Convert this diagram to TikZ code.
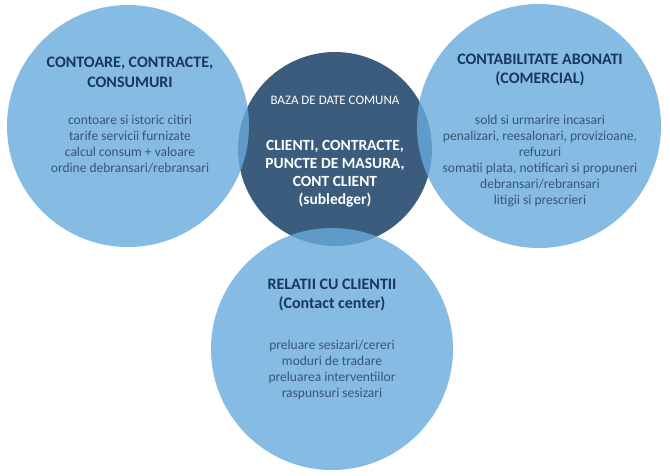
\documentclass[tikz,border=0pt]{standalone}
\usepackage{fontspec}
\setmainfont{Carlito}
\usepackage{tikz}

\definecolor{lightdisc}{RGB}{104,171,220}
\definecolor{darkdisc}{RGB}{59,92,124}
\definecolor{headblue}{RGB}{23,55,94}
\definecolor{bodyblue}{RGB}{55,85,115}

\tikzset{
  disc/.style={circle, inner sep=0pt, fill=lightdisc, fill opacity=0.8},
  core/.style={circle, inner sep=0pt, fill=darkdisc},
  heading/.style={align=center, text=headblue, font=\fontsize{16}{19.5}\selectfont\bfseries},
  body/.style={align=center, text=bodyblue, font=\fontsize{13.5}{16}\selectfont},
}

\begin{document}
\begin{tikzpicture}[x=1pt, y=-1pt]
\useasboundingbox (0,0) rectangle (670,475);
\node[core, minimum size=194pt] (baza) at (335,149) {};
\node[disc, minimum size=242pt] (contoare) at (128,126) {};
\node[disc, minimum size=244pt] (abonati) at (539,126) {};
\node[disc, minimum size=242pt] (relatii) at (332,349) {};
\node[heading] (contoareTitle) at (130,72.5) {CONTOARE, CONTRACTE,\\CONSUMURI};
\node[body] (contoareText) at (130,144) {contoare si istoric citiri\\tarife servicii furnizate\\calcul consum + valoare\\ordine debransari/rebransari};
\node[heading] (abonatiTitle) at (540,70) {CONTABILITATE ABONATI\\(COMERCIAL)};
\node[body] (abonatiText) at (540,160.5) {sold si urmarire incasari\\penalizari, reesalonari, provizioane,\\refuzuri\\somatii plata, notificari si propuneri\\debransari/rebransari\\litigii si prescrieri};
\node[heading] (relatiiTitle) at (332,295) {RELATII CU CLIENTII\\(Contact center)};
\node[body] (relatiiText) at (332,370) {preluare sesizari/cereri\\moduri de tradare\\preluarea interventiilor\\raspunsuri sesizari};
\node[text=white, font=\fontsize{13}{15}\selectfont] (bazaTitle) at (335,100) {BAZA DE DATE COMUNA};
\node[heading, text=white, font=\fontsize{15.5}{18}\selectfont\bfseries] (bazaText) at (335,174) {CLIENTI, CONTRACTE,\\PUNCTE DE MASURA,\\CONT CLIENT\\(subledger)};
\end{tikzpicture}
\end{document}
